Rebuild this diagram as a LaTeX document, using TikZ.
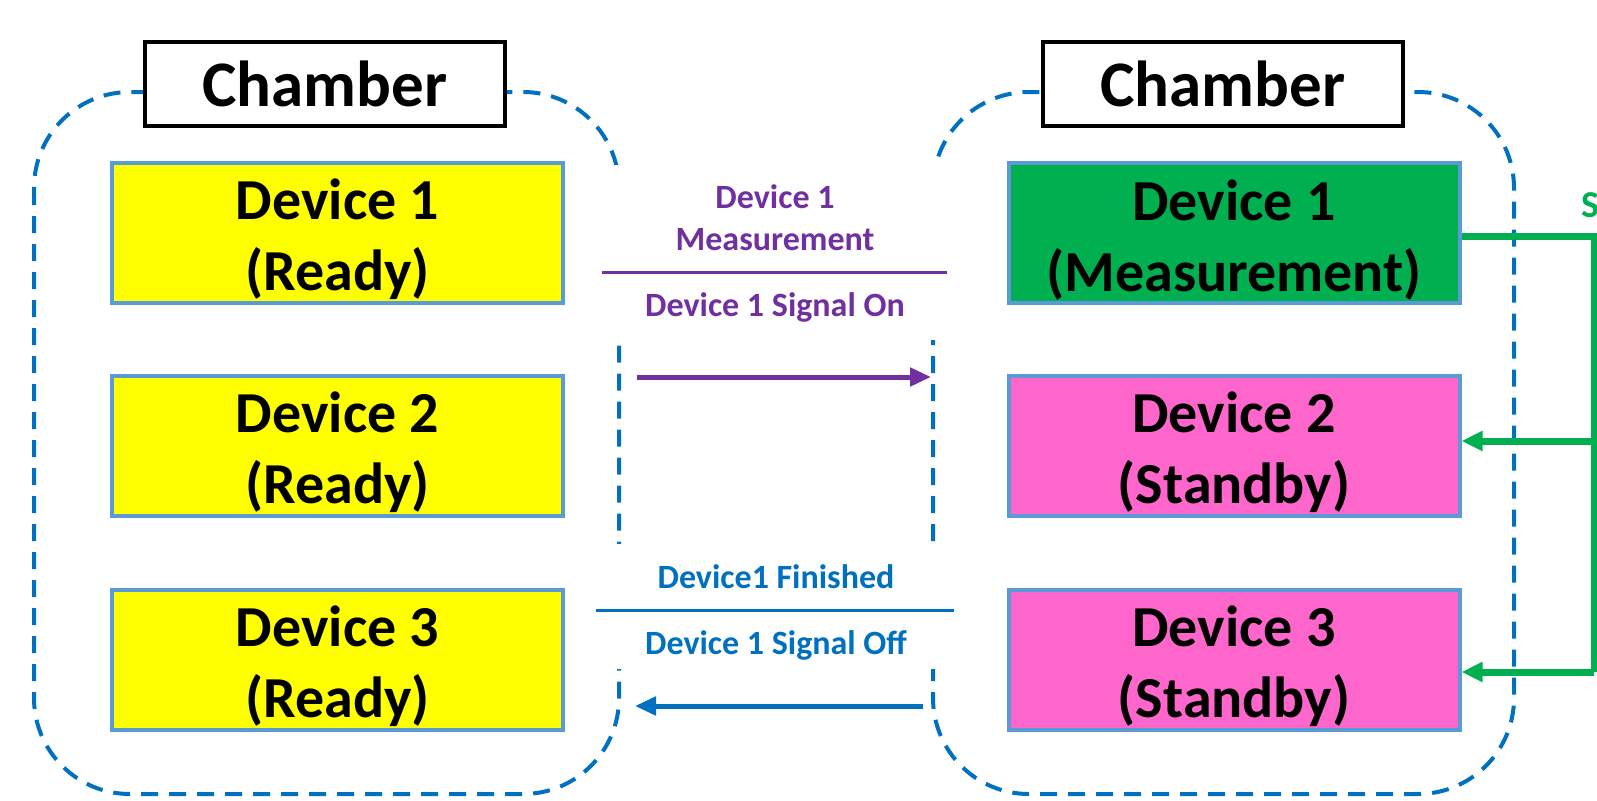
\documentclass[tikz,border=0pt]{standalone}
\usepackage{fontspec}
\setmainfont{Carlito}
\usetikzlibrary{arrows.meta}
\definecolor{cyellow}{HTML}{FFFF00}
\definecolor{cgreen}{HTML}{00B050}
\definecolor{cpink}{HTML}{FF66CC}
\definecolor{cborder}{HTML}{5B9BD5}
\definecolor{cpurple}{HTML}{7030A0}
\definecolor{cblue}{HTML}{0070C0}
\newcommand{\topstrut}{\rule{0pt}{54pt}}
\tikzset{
  chamber/.style={draw=cblue, line width=4pt, dash pattern=on 17pt off 11pt, rounded corners=96pt},
  titlebox/.style={draw=black, line width=4pt, fill=white, minimum width=360pt, minimum height=84pt, inner sep=0pt,
    font=\bfseries\fontsize{65}{78}\selectfont},
  devbox/.style={draw=cborder, line width=4pt, minimum width=451pt, minimum height=140pt, inner sep=0pt, align=center,
    font=\bfseries\fontsize{58}{71}\selectfont},
  labbg/.style={fill=white, inner sep=0pt},
  lab/.style={align=center, inner sep=0pt, font=\bfseries\fontsize{34}{42}\selectfont},
  sigarrow/.style={line width=5pt, -{Triangle[length=21pt,width=18pt]}},
  greenline/.style={cgreen, line width=7pt},
}
\begin{document}
\begin{tikzpicture}[x=1pt,y=-1pt]
\useasboundingbox (0,0) rectangle (1597,800);
% chambers
\draw[chamber] (34,92) rectangle (619,794);
\draw[chamber] (933,92) rectangle (1514,794);
% white label backgrounds
\node[labbg, minimum width=368pt, minimum height=175pt] (bg1) at (775,252) {};
\node[labbg, minimum width=370pt, minimum height=125pt] (bg2) at (775,606) {};
% chamber titles
\node[titlebox] (lct) at (325,84) {Chamber};
\node[titlebox] (rct) at (1223,84) {Chamber};
% devices left
\node[devbox, fill=cyellow] (L1) at (337.5,233) {\topstrut Device 1\\(Ready)};
\node[devbox, fill=cyellow] (L2) at (337.5,446) {\topstrut Device 2\\(Ready)};
\node[devbox, fill=cyellow] (L3) at (337.5,659.5) {\topstrut Device 3\\(Ready)};
% devices right
\node[devbox, fill=cgreen] (R1) at (1234,233) {\topstrut Device 1\\(Measurement)};
\node[devbox, fill=cpink] (R2) at (1234,446) {\topstrut Device 2\\(Standby)};
\node[devbox, fill=cpink] (R3) at (1234,659.5) {\topstrut Device 3\\(Standby)};
% purple label
\node[lab, text=cpurple] (m1) at (775,218) {Device 1\\Measurement};
\node[lab, text=cpurple] (m2) at (775,307) {Device 1 Signal On};
\coordinate (r1a) at (602,272);
\coordinate (r1b) at (947,272);
\draw[cpurple, line width=3pt] (r1a) -- (r1b);
\coordinate (a1s) at (637,377);
\coordinate (a1e) at (931,377);
\draw[sigarrow, cpurple] (a1s) -- (a1e);
% blue label
\node[lab, text=cblue] (f1) at (776,577) {Device1 Finished};
\node[lab, text=cblue] (f2) at (776,645) {Device 1 Signal Off};
\coordinate (r2a) at (596,610);
\coordinate (r2b) at (954,610);
\draw[cblue, line width=3pt] (r2a) -- (r2b);
\coordinate (a2s) at (923,706);
\coordinate (a2e) at (635,706);
\draw[sigarrow, cblue] (a2s) -- (a2e);
% green signal
\coordinate (gtop) at (1594,236);
\coordinate (gmid) at (1594,441);
\coordinate (gbot) at (1594,672);
\draw[greenline, line join=miter] ([yshift=-3pt]R1.east) -- (gtop) -- (gbot);
\draw[greenline, -{Triangle[length=21pt,width=19pt]}] (gmid) -- ([yshift=5pt]R2.east);
\draw[greenline, -{Triangle[length=21pt,width=19pt]}] (gbot) -- ([yshift=-12.5pt]R3.east);
\node[lab, text=cgreen, anchor=west, font=\bfseries\fontsize{38}{44}\selectfont] (gs) at (1581,205) {S};
\end{tikzpicture}
\end{document}
